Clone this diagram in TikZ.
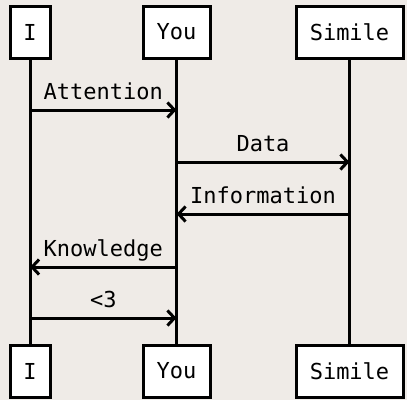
\documentclass[tikz,border=0pt]{standalone}
\usepackage{fontspec}
\setmonofont{DejaVu Sans Mono}
\usetikzlibrary{arrows.meta}
\definecolor{paper}{RGB}{239,235,231}
\tikzset{
  actor/.style={draw, fill=white, line width=3pt, minimum height=52pt, inner sep=0pt},
  life/.style={line width=3pt},
  msg/.style={line width=3pt, -{Straight Barb[length=7pt,width=15pt,line width=3pt]}},
  lbl/.style={midway, anchor=base, yshift=11pt}
}
\begin{document}
\begin{tikzpicture}[x=1pt, y=-1pt, font=\ttfamily\fontsize{22}{26}\selectfont]
\fill[paper] (0,0) rectangle (407,400);
\useasboundingbox (0,0) rectangle (407,400);
% lifelines
\draw[life] (30,32) -- (30,371);
\draw[life] (176.5,32) -- (176.5,371);
\draw[life] (349.5,32) -- (349.5,371);
% actors, top and bottom
\node[actor, minimum width=40pt] (itop) at (30,32) {I};
\node[actor, minimum width=67pt] (youtop) at (176.5,32) {You};
\node[actor, minimum width=107pt] (simtop) at (349.5,32) {Simile};
\node[actor, minimum width=40pt] (ibot) at (30,371) {I};
\node[actor, minimum width=67pt] (youbot) at (176.5,371) {You};
\node[actor, minimum width=107pt] (simbot) at (349.5,371) {Simile};
% messages
\draw[msg] (itop |- 0,110) -- (youtop |- 0,110) node[lbl] {Attention};
\draw[msg] (youtop |- 0,162) -- (simtop |- 0,162) node[lbl] {Data};
\draw[msg] (simtop |- 0,214) -- (youtop |- 0,214) node[lbl] {Information};
\draw[msg] (youtop |- 0,267) -- (itop |- 0,267) node[lbl] {Knowledge};
\draw[msg] (itop |- 0,318) -- (youtop |- 0,318) node[lbl] {<3};
\end{tikzpicture}
\end{document}
